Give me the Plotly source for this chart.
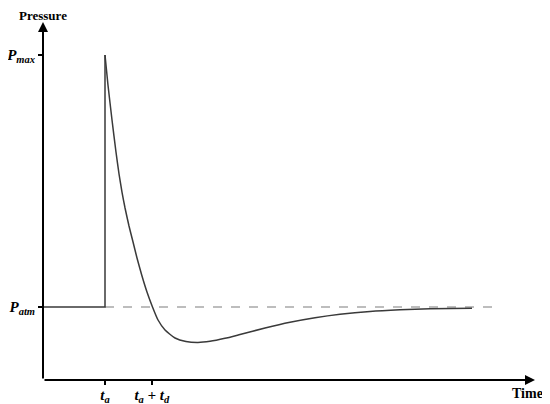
import plotly.graph_objects as go

# time in units of t_a, pressure in units of P_atm
t_a = 1.0
t_d = 0.755
p_atm = 1.0
p_max = 4.452

pre_time = [0.0, 1.0, 1.0]
pre_pressure = [1.0, 1.0, 4.452]

decay_time = [1.0, 1.048, 1.113, 1.177, 1.226, 1.274, 1.323, 1.387, 1.452, 1.516, 1.592,
              1.677, 1.766, 1.855, 1.968, 2.129, 2.306, 2.5, 2.694, 2.935, 3.177, 3.581,
              3.984, 4.387, 4.790, 5.274, 5.758, 6.242, 6.919]
decay_pressure = [4.452, 4.041, 3.562, 3.123, 2.822, 2.575, 2.356, 2.110, 1.890, 1.671, 1.438,
                  1.205, 1.0, 0.822, 0.685, 0.575, 0.527, 0.514, 0.530, 0.571, 0.623, 0.712,
                  0.790, 0.852, 0.900, 0.940, 0.963, 0.977, 0.984]

ref_time = [1.0, 7.29]
ref_pressure = [1.0, 1.0]

x_end = 7.935
y_end = 4.904

serif = "Liberation Serif"
line_col = "#3a3a3a"

fig = go.Figure()
fig.add_trace(go.Scatter(x=ref_time, y=ref_pressure, mode="lines",
                         line=dict(color="#a8a8a8", width=1.3, dash="dash"), hoverinfo="skip"))
fig.add_trace(go.Scatter(x=pre_time, y=pre_pressure, mode="lines",
                         line=dict(color=line_col, width=1.5), hoverinfo="skip"))
fig.add_trace(go.Scatter(x=decay_time, y=decay_pressure, mode="lines", line_shape="spline",
                         line=dict(color=line_col, width=1.5, smoothing=0.5), hoverinfo="skip"))

# axes drawn as arrows
fig.add_annotation(x=x_end, y=0, ax=0, ay=0, xref="x", yref="y", axref="x", ayref="y",
                   showarrow=True, arrowhead=2, arrowsize=1, arrowwidth=2,
                   arrowcolor="black", standoff=0, text="")
fig.add_annotation(x=0, y=y_end, ax=0, ay=0, xref="x", yref="y", axref="x", ayref="y",
                   showarrow=True, arrowhead=2, arrowsize=1, arrowwidth=2,
                   arrowcolor="black", standoff=0, text="")

fig.add_annotation(x=0, y=1, xref="x", yref="paper", yanchor="bottom", yshift=-3,
                   text="<b>Pressure</b>", showarrow=False,
                   font=dict(family=serif, size=13, color="black"))
fig.add_annotation(x=x_end, y=0, xref="x", yref="y", yanchor="top", xanchor="center",
                   xshift=-8, yshift=-4, text="<b>Time</b>", showarrow=False,
                   font=dict(family=serif, size=14, color="black"))

# the page body adds an 8px offset, so the figure is 8px smaller than the window
fig.update_layout(
    width=542, height=396,
    margin=dict(l=35, r=15, t=14, b=24, pad=0),
    plot_bgcolor="white", paper_bgcolor="white",
    showlegend=False,
    xaxis=dict(range=[0, x_end], showgrid=False, zeroline=False, showline=False,
               automargin=False,
               tickvals=[t_a, t_a + t_d],
               ticktext=["<b><i>t<sub>a</sub></i></b>",
                         "<b><i>t<sub>a</sub> + t<sub>d</sub></i></b>"],
               ticks="outside", ticklen=4, tickwidth=1.5, tickcolor="black",
               ticklabelstandoff=-3,
               tickfont=dict(family=serif, size=15, color="black")),
    yaxis=dict(range=[0, y_end], showgrid=False, zeroline=False, showline=False,
               automargin=False,
               tickvals=[p_atm, p_max],
               ticktext=["<b><i>P<sub>atm</sub></i></b>", "<b><i>P<sub>max</sub></i></b>"],
               ticks="outside", ticklen=4, tickwidth=1.5, tickcolor="black",
               tickfont=dict(family=serif, size=15, color="black")),
)

fig.write_html("out.html")
